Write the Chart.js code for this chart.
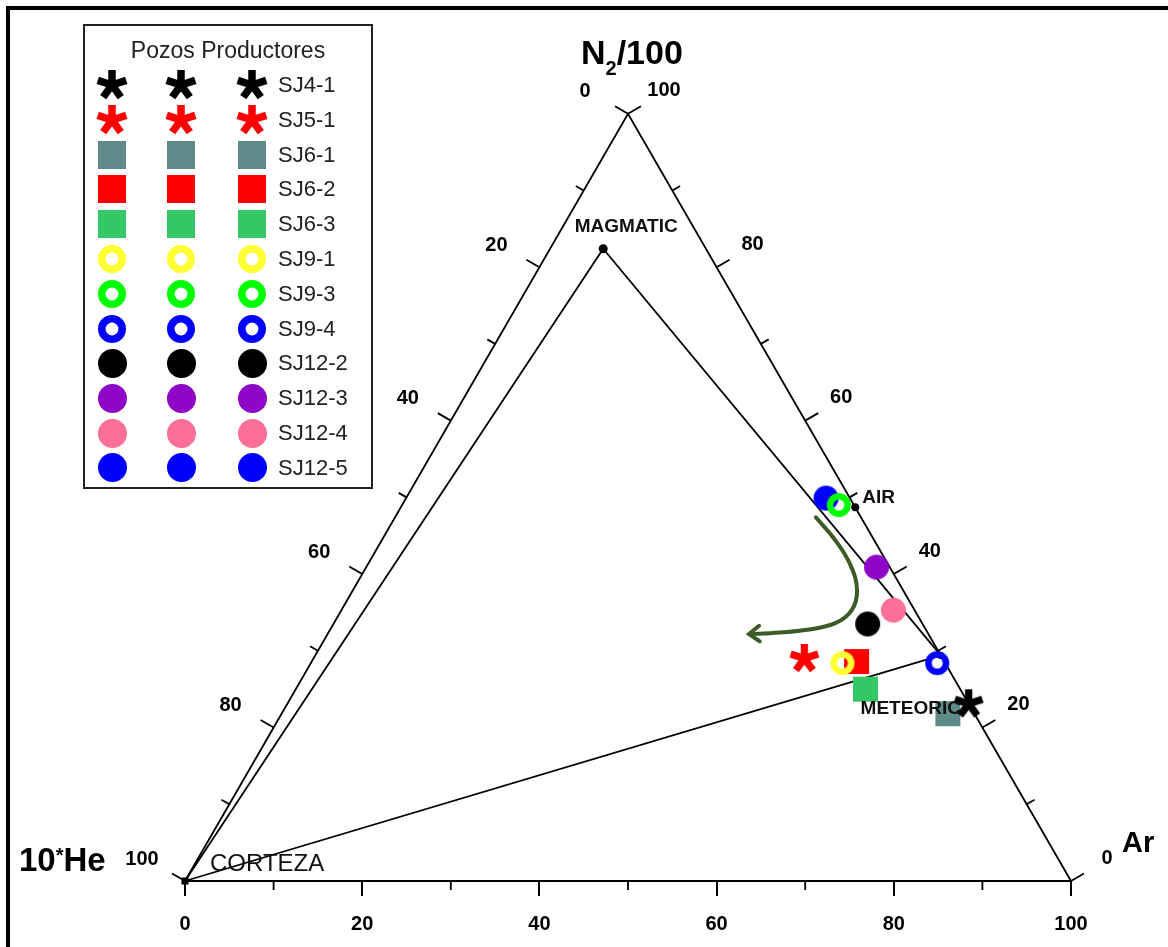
<!DOCTYPE html>
<html>
<head>
<meta charset="utf-8">
<script src="https://cdn.jsdelivr.net/npm/chart.js@4.4.1/dist/chart.umd.min.js"></script>
<style>
  html, body { margin: 0; padding: 0; background: #ffffff; }
  #wrap { width: 1168px; height: 947px; position: relative; }
</style>
</head>
<body>
<div id="wrap"><canvas id="chart" width="1168" height="947"></canvas></div>
<script>
// ---- Producing wells: composition in the N2/100 - 10*He - Ar system (%) ----
const wellNames = ['SJ4-1', 'SJ5-1', 'SJ6-1', 'SJ6-2', 'SJ6-3', 'SJ9-1', 'SJ9-3', 'SJ9-4', 'SJ12-2', 'SJ12-3', 'SJ12-4', 'SJ12-5'];
const wellN2 = [23.1, 29.0, 21.8, 28.6, 25.0, 28.4, 49.0, 28.4, 33.5, 40.9, 35.3, 49.9];
const wellHe = [0.0, 15.6, 3.0, 9.9, 10.7, 11.6, 1.7, 0.9, 6.2, 1.5, 2.4, 2.7];
const wellAr = [76.9, 55.4, 75.2, 61.5, 64.3, 60.0, 49.3, 70.7, 60.3, 57.6, 62.3, 47.4];
const wellMarkers = ['asterisk', 'asterisk', 'square', 'square', 'square', 'ring', 'ring', 'ring', 'disc', 'disc', 'disc', 'disc'];
const wellColors = ['#000000', '#ff0000', '#5f8a8a', '#ff0000', '#33c766', '#ffff33', '#00ff00', '#0000ff', '#000000', '#8e06c6', '#fb6f98', '#0000ff'];

// ---- End members ----
const endNames = ['CORTEZA', 'MAGMATIC', 'AIR', 'METEORIC'];
const endN2 = [0.0, 82.4, 48.7, 29.4];
const endHe = [100.0, 11.6, 0.0, 0.0];
const endAr = [0.0, 6.0, 51.3, 70.6];
// mixing lines between end members (indices into the arrays above)
const mixingFrom = [0, 1, 0];
const mixingTo = [1, 3, 3];

// ---- Trend arrow (composition path) ----
const trendN2 = [47.4, 44.4, 41.2, 37.9, 35.3, 33.6, 32.7, 32.3, 32.2];
const trendHe = [5.1, 4.4, 4.3, 5.2, 7.1, 9.8, 13.7, 17.8, 19.9];
const trendAr = [47.5, 51.2, 54.5, 56.9, 57.6, 56.6, 53.6, 49.9, 47.9];

// ---- Axis ticks ----
const bottomMajorTicks = [0, 20, 40, 60, 80, 100];
const bottomMinorTicks = [10, 30, 50, 70, 90];
const sideTicks = [0, 10, 20, 30, 40, 50, 60, 70, 80, 90, 100];
const sideLabels = [0, 20, 40, 60, 80, 100];

const FONT = "'Liberation Sans', Arial, Helvetica, sans-serif";
const SQ3 = Math.sqrt(3) / 2;
const ARROW_GREEN = '#3c5b26';

// ternary (N2, He, Ar) -> cartesian in an equilateral triangle of side 100
function toXY(n2, he, ar) {
  const s = n2 + he + ar;
  const a = ar / s * 100, n = n2 / s * 100;
  return { x: a + n / 2, y: n * SQ3 };
}

function makeMarker(kind, color, size) {
  const s = Math.ceil(size) + 8;
  const c = document.createElement('canvas');
  c.width = s; c.height = s;
  const g = c.getContext('2d');
  const m = s / 2;
  g.fillStyle = color; g.strokeStyle = color;
  if (kind === 'square') {
    g.fillRect(m - size / 2, m - size / 2, size, size);
  } else if (kind === 'disc') {
    g.beginPath(); g.arc(m, m, size / 2, 0, Math.PI * 2); g.fill();
  } else if (kind === 'ring') {
    const w = size * 0.27;
    g.lineWidth = w;
    g.beginPath(); g.arc(m, m, size / 2 - w / 2, 0, Math.PI * 2); g.stroke();
  } else if (kind === 'asterisk') {
    g.lineWidth = size * 0.25;
    g.lineCap = 'butt';
    for (let k = 0; k < 5; k++) {
      const a = -Math.PI / 2 + k * 2 * Math.PI / 5;
      g.beginPath();
      g.moveTo(m, m);
      g.lineTo(m + Math.cos(a) * size / 2, m + Math.sin(a) * size / 2);
      g.stroke();
    }
    g.beginPath(); g.arc(m, m, size * 0.17, 0, Math.PI * 2); g.fill();
  }
  return c;
}

const plotSize = { square: 25, disc: 25, ring: 24, asterisk: 29 };
const legendSize = { square: 28, disc: 29, ring: 28, asterisk: 30 };
const layerOrder = { square: 50, asterisk: 40, disc: 30, ring: 20 };

const plotMarkers = wellNames.map((_, i) => makeMarker(wellMarkers[i], wellColors[i], plotSize[wellMarkers[i]]));
const legendMarkers = wellNames.map((_, i) => makeMarker(wellMarkers[i], wellColors[i], legendSize[wellMarkers[i]]));

const endXY = endNames.map((_, i) => toXY(endN2[i], endHe[i], endAr[i]));
const datasets = [];

// triangle sides (bottom side is the x axis line)
datasets.push({
  label: 'frame',
  data: [toXY(0, 100, 0), toXY(100, 0, 0), toXY(0, 0, 100)],
  showLine: true, borderColor: '#000', borderWidth: 1.8, pointRadius: 0,
  fill: false, clip: false, order: 100
});

// mixing lines
mixingFrom.forEach((f, k) => {
  datasets.push({
    label: endNames[f] + '-' + endNames[mixingTo[k]],
    data: [endXY[f], endXY[mixingTo[k]]],
    showLine: true, borderColor: '#000', borderWidth: 1.8, pointRadius: 0,
    fill: false, clip: false, order: 100
  });
});

// trend arrow shaft
datasets.push({
  label: 'trend',
  data: trendN2.map((n, i) => toXY(n, trendHe[i], trendAr[i])),
  showLine: true, borderColor: ARROW_GREEN, borderWidth: 4, tension: 0.4,
  borderCapStyle: 'round', pointRadius: 0, fill: false, clip: false, order: 90
});

// end member markers
datasets.push({
  label: 'end members',
  data: endXY,
  pointStyle: ['rect', 'circle', 'circle', 'circle'],
  pointRadius: [5, 4.5, 4, 3.5],
  backgroundColor: '#000', borderColor: '#000', borderWidth: 0,
  showLine: false, clip: false, order: 80
});

// wells
wellNames.forEach((name, i) => {
  datasets.push({
    label: name,
    data: [toXY(wellN2[i], wellHe[i], wellAr[i])],
    pointStyle: plotMarkers[i],
    pointRadius: 12,
    showLine: false, clip: false,
    order: layerOrder[wellMarkers[i]]
  });
});

function seg(ctx, x1, y1, x2, y2) {
  ctx.beginPath(); ctx.moveTo(x1, y1); ctx.lineTo(x2, y2); ctx.stroke();
}

const ternaryDecor = {
  id: 'ternaryDecor',
  afterDatasetsDraw(chart) {
    const ctx = chart.ctx, xs = chart.scales.x, ys = chart.scales.y;
    const P = (n2, he, ar) => {
      const q = toXY(n2, he, ar);
      return [xs.getPixelForValue(q.x), ys.getPixelForValue(q.y)];
    };
    ctx.save();
    ctx.strokeStyle = '#000';
    ctx.fillStyle = '#000';
    ctx.lineWidth = 1.8;

    // minor ticks on the Ar axis
    const yb = ys.getPixelForValue(0);
    bottomMinorTicks.forEach(v => {
      const x = xs.getPixelForValue(v);
      seg(ctx, x, yb, x, yb + 9);
    });

    // ticks on the He (left) and N2 (right) sides, perpendicular outward
    sideTicks.forEach(v => {
      const len = v % 20 === 0 ? 15 : 9;
      let [px, py] = P(100 - v, v, 0);
      seg(ctx, px, py, px - 0.866 * len, py - 0.5 * len);
      [px, py] = P(v, 0, 100 - v);
      seg(ctx, px, py, px + 0.866 * len, py - 0.5 * len);
    });

    // side tick labels
    ctx.font = 'bold 20px ' + FONT;
    ctx.textAlign = 'center';
    ctx.textBaseline = 'middle';
    sideLabels.forEach(v => {
      let [px, py] = P(100 - v, v, 0);
      ctx.fillText(String(v), px - 43, py - 22);
      [px, py] = P(v, 0, 100 - v);
      ctx.fillText(String(v), px + 36, py - 23);
    });

    // arrow head at the end of the trend path
    const tm = chart.getDatasetMeta(datasets.findIndex(d => d.label === 'trend'));
    const pts = tm.data;
    const a = pts[pts.length - 1], b = pts[pts.length - 2];
    const ang = Math.atan2(a.y - b.y, a.x - b.x);
    const tipX = a.x + Math.cos(ang) * 3, tipY = a.y + Math.sin(ang) * 3;
    ctx.strokeStyle = ARROW_GREEN;
    ctx.lineWidth = 4;
    ctx.lineCap = 'round';
    ctx.lineJoin = 'miter';
    ctx.beginPath();
    ctx.moveTo(tipX + Math.cos(ang + Math.PI - 0.65) * 13, tipY + Math.sin(ang + Math.PI - 0.65) * 13);
    ctx.lineTo(tipX, tipY);
    ctx.lineTo(tipX + Math.cos(ang + Math.PI + 0.65) * 13, tipY + Math.sin(ang + Math.PI + 0.65) * 13);
    ctx.stroke();
    ctx.lineCap = 'butt';

    // end member labels
    ctx.fillStyle = '#111';
    const em = endXY.map(q => [xs.getPixelForValue(q.x), ys.getPixelForValue(q.y)]);
    ctx.font = '24px ' + FONT;
    ctx.textAlign = 'left';
    ctx.fillText(endNames[0], em[0][0] + 25, em[0][1] - 17);
    ctx.font = 'bold 19px ' + FONT;
    ctx.textAlign = 'center';
    ctx.fillText(endNames[1], em[1][0] + 23, em[1][1] - 22);
    ctx.textAlign = 'left';
    ctx.fillText(endNames[2], em[2][0] + 7, em[2][1] - 10);
    ctx.textAlign = 'center';
    ctx.fillText(endNames[3], em[3][0] - 30, em[3][1] + 53);

    // vertex titles
    ctx.fillStyle = '#000';
    ctx.textBaseline = 'alphabetic';
    ctx.textAlign = 'left';
    ctx.font = 'bold 34px ' + FONT;
    let x0 = 581;
    ctx.fillText('N', x0, 64);
    x0 += ctx.measureText('N').width;
    ctx.font = 'bold 20px ' + FONT;
    ctx.fillText('2', x0, 75);
    x0 += ctx.measureText('2').width;
    ctx.font = 'bold 34px ' + FONT;
    ctx.fillText('/100', x0, 64);

    ctx.font = 'bold 33px ' + FONT;
    x0 = 19;
    ctx.fillText('10', x0, 871);
    x0 += ctx.measureText('10').width;
    ctx.font = 'bold 20px ' + FONT;
    ctx.fillText('*', x0, 862);
    x0 += ctx.measureText('*').width;
    ctx.font = 'bold 33px ' + FONT;
    ctx.fillText('He', x0, 871);

    ctx.font = 'bold 29px ' + FONT;
    ctx.fillText('Ar', 1122, 852);
    ctx.restore();
  },
  afterDraw(chart) {
    const ctx = chart.ctx;
    ctx.save();
    // legend
    ctx.fillStyle = '#ffffff';
    ctx.fillRect(84, 25, 288, 463);
    ctx.strokeStyle = '#222';
    ctx.lineWidth = 2;
    ctx.strokeRect(84, 25, 288, 463);
    ctx.fillStyle = '#222';
    ctx.font = '23px ' + FONT;
    ctx.textAlign = 'center';
    ctx.textBaseline = 'middle';
    ctx.fillText('Pozos Productores', 228, 52);
    ctx.font = '22px ' + FONT;
    ctx.textAlign = 'left';
    const cols = [112, 181, 252];
    wellNames.forEach((name, i) => {
      const y = 85 + i * 34.8;
      const img = legendMarkers[i];
      cols.forEach(cx => ctx.drawImage(img, Math.round(cx - img.width / 2), Math.round(y - img.height / 2)));
      ctx.fillText(name, 278, y + 1);
    });
    // outer frame
    ctx.strokeStyle = '#000';
    ctx.lineWidth = 4;
    ctx.strokeRect(8, 8, 1170, 960);
    ctx.restore();
  }
};

new Chart(document.getElementById('chart'), {
  type: 'scatter',
  data: { datasets },
  options: {
    responsive: false,
    animation: false,
    devicePixelRatio: 1,
    events: [],
    layout: { padding: { left: 185, right: 97, top: 881 - 95 * 8.86, bottom: 0 } },
    plugins: { legend: { display: false }, tooltip: { enabled: false } },
    scales: {
      x: {
        type: 'linear', position: 'bottom', min: 0, max: 100,
        afterFit(scale) { scale.height = 66; },
        afterBuildTicks(scale) { scale.ticks = bottomMajorTicks.map(v => ({ value: v })); },
        ticks: { color: '#000', font: { family: FONT, size: 20, weight: 'bold' }, padding: 16, maxRotation: 0 },
        grid: { display: true, drawOnChartArea: false, drawTicks: true, tickLength: 15, color: '#000', lineWidth: 2 },
        border: { display: true, color: '#000', width: 2 }
      },
      y: { type: 'linear', display: false, min: 0, max: 95 }
    }
  },
  plugins: [ternaryDecor]
});
</script>
</body>
</html>
